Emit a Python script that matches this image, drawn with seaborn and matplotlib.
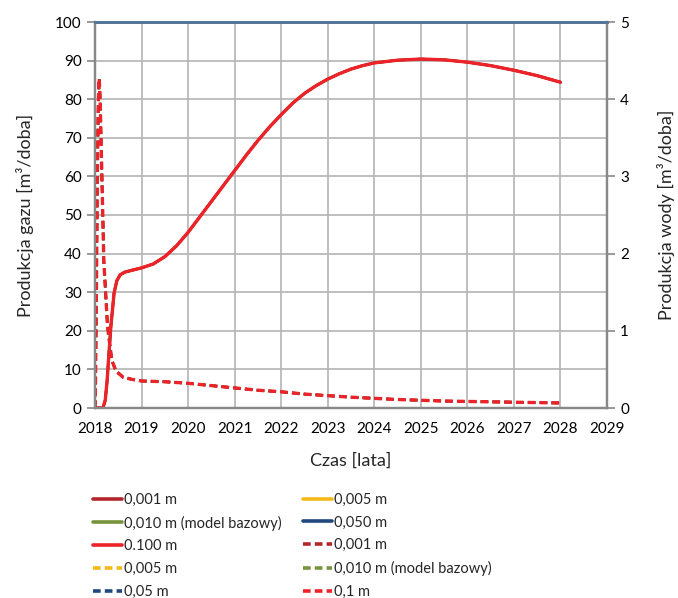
import numpy as np
import pandas as pd
import seaborn as sns
import matplotlib
matplotlib.use("Agg")
import matplotlib.pyplot as plt

# Gas production, m3/day (left axis)
gas_t = [2018.0, 2018.1, 2018.17, 2018.22, 2018.26, 2018.29, 2018.34, 2018.41, 2018.47,
         2018.54, 2018.64, 2018.8, 2019.0, 2019.25, 2019.5, 2019.75, 2020.0, 2020.25,
         2020.5, 2020.75, 2021.0, 2021.25, 2021.5, 2021.75, 2022.0, 2022.25, 2022.5,
         2022.75, 2023.0, 2023.25, 2023.5, 2023.75, 2024.0, 2024.5, 2025.0, 2025.5,
         2026.0, 2026.5, 2027.0, 2027.5, 2028.0]
gas_q = [0.0, 0.0, 0.0, 2.0, 7.0, 12.4, 21.0, 29.8, 33.0,
         34.5, 35.2, 35.7, 36.3, 37.3, 39.2, 42.0, 45.5, 49.5,
         53.5, 57.5, 61.5, 65.5, 69.3, 72.8, 76.0, 79.0, 81.5,
         83.5, 85.2, 86.6, 87.8, 88.7, 89.4, 90.1, 90.4, 90.2,
         89.6, 88.7, 87.5, 86.1, 84.4]

# Water production, m3/day (right axis)
wat_t = [2018.0, 2018.01, 2018.03, 2018.05, 2018.07, 2018.09, 2018.11, 2018.14, 2018.19,
         2018.27, 2018.36, 2018.45, 2018.6, 2018.8, 2019.0, 2019.5, 2020.0, 2020.5,
         2021.0, 2021.5, 2022.0, 2022.5, 2023.0, 2023.5, 2024.0, 2024.5, 2025.0,
         2025.5, 2026.0, 2026.5, 2027.0, 2027.5, 2028.0]
wat_q = [0.0, 0.3, 1.5, 3.0, 3.9, 4.27, 4.0, 3.2, 1.9,
         1.05, 0.62, 0.48, 0.40, 0.37, 0.35, 0.34, 0.32, 0.29,
         0.26, 0.23, 0.21, 0.18, 0.16, 0.14, 0.125, 0.11, 0.10,
         0.09, 0.085, 0.08, 0.075, 0.07, 0.065]

gas_labels = ["0,001 m", "0,005 m", "0,010 m (model bazowy)", "0,050 m", "0.100 m"]
wat_labels = ["0,001 m", "0,005 m", "0,010 m (model bazowy)", "0,05 m", "0,1 m"]
colors = ["#b5262c", "#f5b919", "#77933c", "#1f497d", "#ee2229"]

x_ticks = list(range(2018, 2030))
gas_ticks = list(range(0, 101, 10))
wat_ticks = list(range(0, 6))

sns.set_theme(style="white")
plt.rcParams["font.family"] = ["Lato", "DejaVu Sans"]
# dash lengths in absolute points, so stacked dashed series stay in phase
plt.rcParams["lines.scale_dashes"] = False

fig = plt.figure(figsize=(6.78, 5.98), dpi=100)
ax = fig.add_axes([95 / 678, 1 - 408 / 598, 512 / 678, 386 / 598])
ax2 = ax.twinx()

gas_df = pd.DataFrame({"t": gas_t, "q": gas_q})
wat_df = pd.DataFrame({"t": wat_t, "q": wat_q})

n = len(colors)
handles = []
for i, (lab, c) in enumerate(zip(gas_labels, colors)):
    lw = 2.4 if i == n - 1 else 1.8
    sns.lineplot(data=gas_df, x="t", y="q", ax=ax, color=c, lw=lw,
                 label=lab, legend=False, sort=False)
    handles.append(ax.lines[-1])
for i, (lab, c) in enumerate(zip(wat_labels, colors)):
    lw = 2.4 if i == n - 1 else 1.8
    sns.lineplot(data=wat_df, x="t", y="q", ax=ax2, color=c, lw=lw,
                 label=lab, legend=False, sort=False, dashes=False,
                 linestyle=(0, (5.5, 3.0)))
    handles.append(ax2.lines[-1])

ax.set_xlim(2018, 2029)
ax.set_ylim(0, 100)
ax2.set_ylim(0, 5)
ax.set_xticks(x_ticks)
ax.set_yticks(gas_ticks)
ax2.set_yticks(wat_ticks)
ax.grid(True, color="#b4b4b4", lw=1.2)
ax2.grid(False)

tick_kw = dict(labelsize=11, colors="#888888", labelcolor="black",
               length=6, width=1.2, direction="out")
ax.tick_params(axis="both", **tick_kw)
ax.tick_params(axis="x", pad=4)
ax2.tick_params(axis="y", **tick_kw)

for a in (ax, ax2):
    for s in a.spines.values():
        s.set_color("#888888")
        s.set_linewidth(1.6)
    a.spines["top"].set_color("#557599")
    a.spines["top"].set_linewidth(2)

ax.set_xlabel("Czas [lata]", fontsize=13, labelpad=12)
ax.set_ylabel("Produkcja gazu [m³/doba]", fontsize=13, labelpad=15)
ax2.set_ylabel("Produkcja wody [m³/doba]", fontsize=13, labelpad=20)

# Row-wise legend order in a two-column layout
order = [0, 2, 4, 6, 8, 1, 3, 5, 7, 9]
leg = fig.legend([handles[i] for i in order], [handles[i].get_label() for i in order],
                 ncol=2, frameon=False, loc="upper left", bbox_to_anchor=(0.118, 0.198),
                 fontsize=10.5, handlelength=2.0, handletextpad=0.15,
                 columnspacing=1.4, labelspacing=0.6)
for h in leg.legend_handles:
    h.set_linewidth(2.6)

fig.savefig("out.png", dpi=100)
